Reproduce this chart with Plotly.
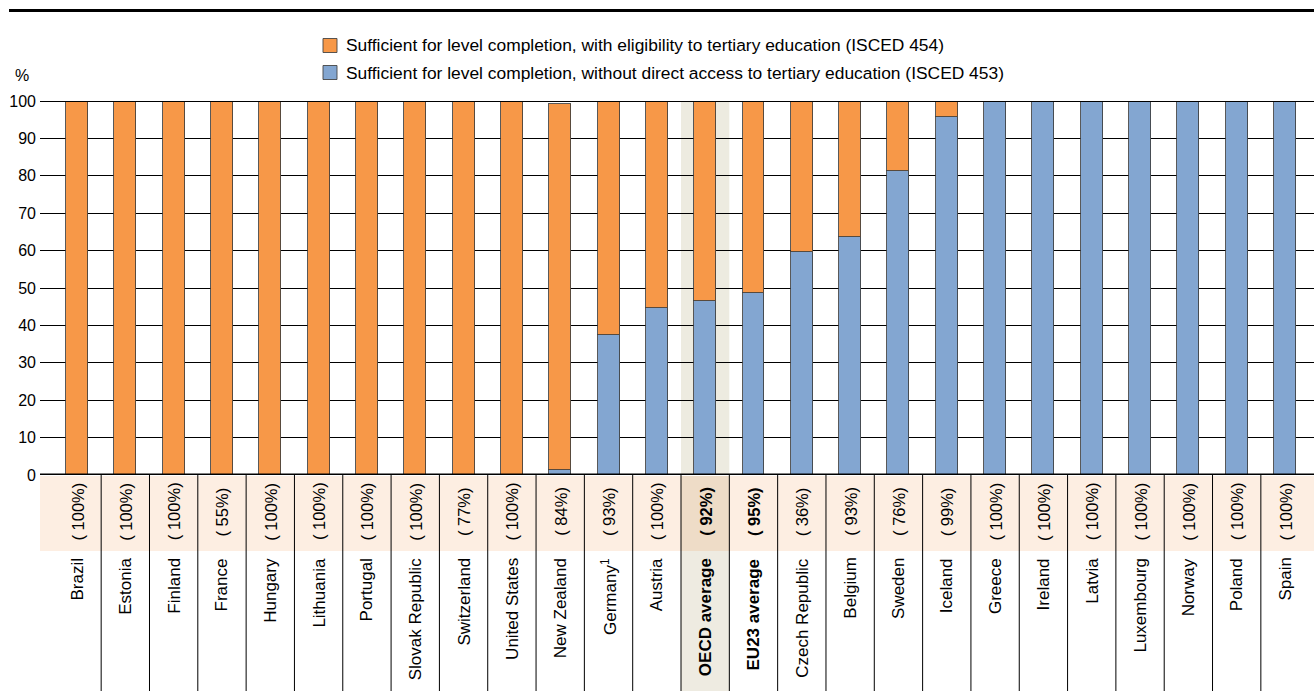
import plotly.graph_objects as go

# Upper secondary vocational programmes: share of students by programme orientation
categories = ["Brazil", "Estonia", "Finland", "France", "Hungary", "Lithuania", "Portugal",
              "Slovak Republic", "Switzerland", "United States", "New Zealand", "Germany<sup>1</sup>",
              "Austria", "<b>OECD average</b>", "<b>EU23 average</b>", "Czech Republic", "Belgium",
              "Sweden", "Iceland", "Greece", "Ireland", "Latvia", "Luxembourg", "Norway", "Poland", "Spain"]

# ISCED 453: sufficient for level completion, without direct access to tertiary education
isced_453 = [0, 0, 0, 0, 0, 0, 0, 0, 0, 0, 1.3, 37.5, 44.6, 46.5, 48.6, 59.6, 63.7,
             81.4, 95.6, 100, 100, 100, 100, 100, 100, 100]
# ISCED 454: sufficient for level completion, with eligibility to tertiary education
isced_454 = [100, 100, 100, 100, 100, 100, 100, 100, 100, 100, 98.0, 62.5, 55.4, 53.5, 51.4, 40.4, 36.3,
             18.6, 4.4, 0, 0, 0, 0, 0, 0, 0]
# Share shown in brackets under each bar
shares = [100, 100, 100, 55, 100, 100, 100, 100, 77, 100, 84, 93, 100, 92, 95, 36, 93,
          76, 99, 100, 100, 100, 100, 100, 100, 100]
bold_idx = [13, 14]
highlight_idx = 13

y_ticks = [0, 10, 20, 30, 40, 50, 60, 70, 80, 90, 100]

legend_labels = [
    "Sufficient for level completion, with eligibility to tertiary education (ISCED 454)",
    "Sufficient for level completion, without direct access to tertiary education (ISCED 453)",
]

ORANGE = "#F79848"
BLUE = "#83A6D1"
EDGE = "rgba(60,60,60,0.85)"
FONT = "Liberation Sans, Arial, sans-serif"

W, H = 1314, 691
ML, MR, MT, MB = 40, 0, 101, 216
PW, PH = W - ML - MR, H - MT - MB


def px_x(x):
    return (x - ML) / PW


def px_y(y):
    return (H - MB - y) / PH


xs = list(range(len(categories)))

fig = go.Figure()
fig.add_trace(go.Bar(x=xs, y=isced_453, marker=dict(color=BLUE, line=dict(color=EDGE, width=1)),
                     width=0.455, name=legend_labels[1], showlegend=False))
fig.add_trace(go.Bar(x=xs, y=isced_454, marker=dict(color=ORANGE, line=dict(color=EDGE, width=1)),
                     width=0.455, name=legend_labels[0], showlegend=False))

shapes = []
band_top, band_bot = px_y(476), px_y(551)
bottom = px_y(H)

# average column highlight
shapes.append(dict(type="rect", xref="x", yref="paper", x0=highlight_idx - 0.5, x1=highlight_idx + 0.5,
                   y0=0, y1=1, fillcolor="#EDEBE0", line=dict(width=0), layer="below"))
# peach band holding the bracketed shares
shapes.append(dict(type="rect", xref="paper", yref="paper", x0=0, x1=1, y0=band_bot, y1=band_top,
                   fillcolor="#FDEEE2", line=dict(width=0), layer="below"))
shapes.append(dict(type="rect", xref="x", yref="paper", x0=highlight_idx - 0.5, x1=highlight_idx + 0.5,
                   y0=band_bot, y1=band_top, fillcolor="#EEDCC7", line=dict(width=0), layer="below"))
shapes.append(dict(type="rect", xref="x", yref="paper", x0=highlight_idx - 0.5, x1=highlight_idx + 0.5,
                   y0=bottom, y1=band_bot, fillcolor="#EEEBE1", line=dict(width=0), layer="below"))
# separators between categories
for i in xs[:-1]:
    shapes.append(dict(type="line", xref="x", yref="paper", x0=i + 0.5, x1=i + 0.5,
                       y0=bottom, y1=0, line=dict(color="black", width=1)))
# axis lines at 0 and 100
shapes.append(dict(type="line", xref="paper", yref="y", x0=0, x1=1, y0=0, y1=0,
                   line=dict(color="black", width=3)))
shapes.append(dict(type="line", xref="paper", yref="y", x0=0, x1=1, y0=100, y1=100,
                   line=dict(color="black", width=2)))
# top rule
shapes.append(dict(type="line", xref="paper", yref="paper", x0=px_x(9), x1=1, y0=px_y(10.5), y1=px_y(10.5),
                   line=dict(color="black", width=3)))
# legend swatches
legend_colors = [ORANGE, BLUE]
legend_rows = [45.5, 72.5]
for c, yc in zip(legend_colors, legend_rows):
    shapes.append(dict(type="rect", xref="paper", yref="paper", x0=px_x(323), x1=px_x(337),
                       y0=px_y(yc + 7), y1=px_y(yc - 7), fillcolor=c,
                       line=dict(color="rgba(70,70,70,0.9)", width=1)))

annotations = []
for lab, yc in zip(legend_labels, legend_rows):
    annotations.append(dict(text=lab, xref="paper", yref="paper", x=px_x(344), y=px_y(yc),
                            xanchor="left", yanchor="middle", showarrow=False,
                            font=dict(family=FONT, size=17.4, color="black")))
annotations.append(dict(text="%", xref="paper", yref="paper", x=px_x(22), y=px_y(75.5),
                        xanchor="center", yanchor="middle", showarrow=False,
                        font=dict(family=FONT, size=16, color="black")))

for i, (cat, s) in enumerate(zip(categories, shares)):
    txt = f"( {s}%)"
    if i in bold_idx:
        txt = f"<b>{txt}</b>"
    annotations.append(dict(text=txt, xref="x", yref="paper", x=i, y=px_y(511.5), textangle=-90,
                            xanchor="center", yanchor="middle", showarrow=False,
                            font=dict(family=FONT, size=16.5, color="black")))
    annotations.append(dict(text=cat, xref="x", yref="paper", x=i, y=px_y(556), textangle=-90,
                            xanchor="center", yanchor="top", showarrow=False,
                            font=dict(family=FONT, size=17, color="black")))

fig.update_layout(
    width=W, height=H,
    margin=dict(l=ML, r=MR, t=MT, b=MB, autoexpand=False),
    paper_bgcolor="white", plot_bgcolor="rgba(0,0,0,0)",
    barmode="stack", bargap=0,
    showlegend=False,
    xaxis=dict(range=[-0.766, 25.6], showticklabels=False, showgrid=False, zeroline=False,
               showline=False, fixedrange=True),
    yaxis=dict(range=[0, 100], tickvals=y_ticks, ticktext=[str(v) for v in y_ticks],
               showgrid=True, gridcolor="black", gridwidth=1, zeroline=False, showline=False,
               ticks="", ticklabelstandoff=3,
               tickfont=dict(family=FONT, size=16, color="black"), fixedrange=True),
    shapes=shapes,
    annotations=annotations,
)

fig.write_html("out.html")
